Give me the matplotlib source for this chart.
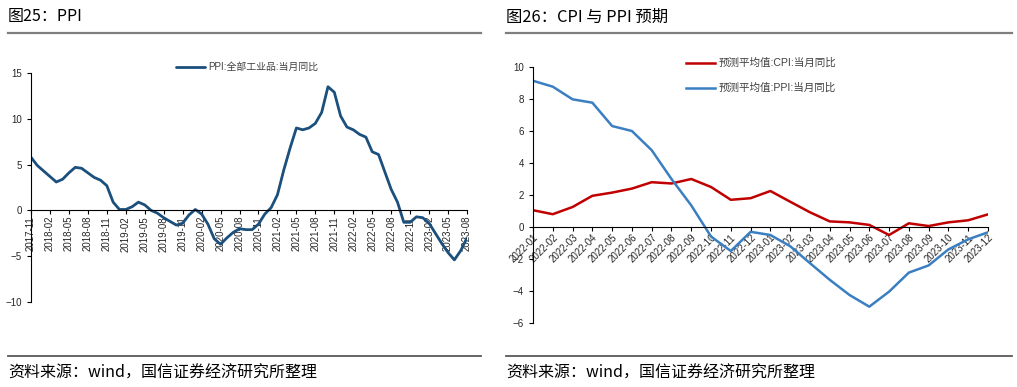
import matplotlib
matplotlib.use("Agg")
import matplotlib.pyplot as plt
from matplotlib.lines import Line2D

plt.rcParams['font.family'] = ['Liberation Sans', 'Noto Sans CJK SC', 'DejaVu Sans']

# ---------------- data ----------------
ppi_months = ["2017-11", "2017-12", "2018-01", "2018-02", "2018-03", "2018-04", "2018-05", "2018-06",
              "2018-07", "2018-08", "2018-09", "2018-10", "2018-11", "2018-12", "2019-01", "2019-02",
              "2019-03", "2019-04", "2019-05", "2019-06", "2019-07", "2019-08", "2019-09", "2019-10",
              "2019-11", "2019-12", "2020-01", "2020-02", "2020-03", "2020-04", "2020-05", "2020-06",
              "2020-07", "2020-08", "2020-09", "2020-10", "2020-11", "2020-12", "2021-01", "2021-02",
              "2021-03", "2021-04", "2021-05", "2021-06", "2021-07", "2021-08", "2021-09", "2021-10",
              "2021-11", "2021-12", "2022-01", "2022-02", "2022-03", "2022-04", "2022-05", "2022-06",
              "2022-07", "2022-08", "2022-09", "2022-10", "2022-11", "2022-12", "2023-01", "2023-02",
              "2023-03", "2023-04", "2023-05", "2023-06", "2023-07", "2023-08"]
ppi_values = [5.8, 4.9, 4.3, 3.7, 3.1, 3.4, 4.1, 4.7, 4.6, 4.1, 3.6, 3.3, 2.7, 0.9, 0.1, 0.1,
              0.4, 0.9, 0.6, 0.0, -0.3, -0.8, -1.2, -1.6, -1.4, -0.5, 0.1, -0.4, -1.5, -3.1,
              -3.7, -3.0, -2.4, -2.0, -2.1, -2.1, -1.5, -0.4, 0.3, 1.7, 4.4, 6.8, 9.0, 8.8,
              9.0, 9.5, 10.7, 13.5, 12.9, 10.3, 9.1, 8.8, 8.3, 8.0, 6.4, 6.1, 4.2, 2.3, 0.9,
              -1.3, -1.3, -0.7, -0.8, -1.4, -2.5, -3.6, -4.6, -5.4, -4.4, -3.0]
ppi_label = "PPI:全部工业品:当月同比"

fc_months = ["2022-01", "2022-02", "2022-03", "2022-04", "2022-05", "2022-06", "2022-07", "2022-08",
             "2022-09", "2022-10", "2022-11", "2022-12", "2023-01", "2023-02", "2023-03", "2023-04",
             "2023-05", "2023-06", "2023-07", "2023-08", "2023-09", "2023-10", "2023-11", "2023-12"]
cpi_forecast = [1.05, 0.8, 1.25, 1.95, 2.15, 2.4, 2.8, 2.72, 3.0, 2.5, 1.7, 1.8,
                2.25, 1.58, 0.92, 0.35, 0.29, 0.13, -0.5, 0.23, 0.06, 0.29, 0.42, 0.79]
ppi_forecast = [9.14, 8.77, 7.98, 7.77, 6.31, 6.0, 4.8, 3.0, 1.35, -0.6, -1.5, -0.3,
                -0.5, -1.2, -2.26, -3.3, -4.25, -4.98, -4.04, -2.85, -2.4, -1.4, -0.77, -0.33]
cpi_label = "预测平均值:CPI:当月同比"
ppi_f_label = "预测平均值:PPI:当月同比"

title_left = "图25：PPI"
title_right = "图26：CPI 与 PPI 预期"
source_text = "资料来源：wind，国信证券经济研究所整理"

# ---------------- figure ----------------
W, H = 1017, 387
fig = plt.figure(figsize=(W / 100, H / 100), dpi=100)
fig.patch.set_facecolor("white")

def fx(px):
    return px / W

def fy(py):
    return 1 - py / H

cjk = ['Noto Sans CJK SC', 'DejaVu Sans']
tick_color = "#262626"
legend_color = "#404040"

# titles, rules, footers
fig.text(fx(8), fy(17), title_left, fontsize=11.5, family=cjk, va='center', ha='left', color='black')
fig.text(fx(506), fy(17), title_right, fontsize=11.8, family=cjk, va='center', ha='left', color='black')
for x0, x1 in [(8, 481), (506, 1012)]:
    fig.add_artist(Line2D([fx(x0), fx(x1)], [fy(33.3), fy(33.3)], color='#7f7f7f', lw=1.6))
    fig.add_artist(Line2D([fx(x0), fx(x1)], [fy(355.7), fy(355.7)], color='#595959', lw=1.3))
fig.text(fx(8), fy(373.5), source_text, fontsize=11.5, family=cjk, va='center', ha='left', color='black')
fig.text(fx(506), fy(373.5), source_text, fontsize=11.5, family=cjk, va='center', ha='left', color='black')


def style_axes(ax):
    for s in ['top', 'right']:
        ax.spines[s].set_visible(False)
    ax.spines['left'].set_color('black')
    ax.spines['left'].set_linewidth(0.8)
    ax.spines['bottom'].set_color('black')
    ax.spines['bottom'].set_linewidth(0.8)
    ax.spines['bottom'].set_position(('data', 0))
    ax.tick_params(axis='both', direction='out', length=3, width=0.8, colors='black',
                   labelcolor=tick_color, labelsize=7)
    ax.tick_params(axis='x', pad=1)
    ax.set_facecolor('white')

# ---------------- left chart ----------------
axL = fig.add_axes([fx(31), fy(302), fx(467) - fx(31), fy(73) - fy(302)])
xL = list(range(len(ppi_months)))
axL.plot(xL, ppi_values, color='#1b4f7c', lw=2.0, solid_joinstyle='round', solid_capstyle='round',
         label=ppi_label)
axL.set_xlim(0, len(ppi_months) - 1)
axL.set_ylim(-10, 15)
axL.set_yticks([-10, -5, 0, 5, 10, 15])
style_axes(axL)
tick_idx = list(range(0, len(ppi_months), 3))
axL.set_xticks(tick_idx)
axL.set_xticklabels([ppi_months[i] for i in tick_idx], rotation=90, ha='center', va='top')
fig.legend(handles=axL.get_lines(), labels=[ppi_label], loc='upper left',
           bbox_to_anchor=(fx(176), fy(62)), frameon=False,
           handlelength=2.9, handletextpad=0.35, borderpad=0, borderaxespad=0,
           labelcolor=legend_color, prop={'family': ['Liberation Sans', 'Noto Sans CJK SC'], 'size': 7.1})

# ---------------- right chart ----------------
axR = fig.add_axes([fx(533), fy(323), fx(988) - fx(533), fy(67) - fy(323)])
xR = list(range(len(fc_months)))
l1, = axR.plot(xR, cpi_forecast, color='#c00000', lw=1.8, solid_joinstyle='round', label=cpi_label)
l2, = axR.plot(xR, ppi_forecast, color='#3a7fc1', lw=1.8, solid_joinstyle='round', label=ppi_f_label)
axR.set_xlim(0, len(fc_months) - 1)
axR.set_ylim(-6, 10)
axR.set_yticks([-6, -4, -2, 0, 2, 4, 6, 8, 10])
style_axes(axR)
axR.set_xticks(xR)
axR.set_xticklabels(fc_months, rotation=45, ha='right', va='top', rotation_mode='anchor')
fig.legend(handles=[l1, l2], labels=[cpi_label, ppi_f_label], loc='upper left',
           bbox_to_anchor=(fx(686), fy(58)), frameon=False,
           handlelength=2.7, handletextpad=0.35, borderpad=0, borderaxespad=0, labelspacing=1.4,
           labelcolor=legend_color, prop={'family': ['Liberation Sans', 'Noto Sans CJK SC'], 'size': 7.6})

fig.savefig("out.png", dpi=100, facecolor='white')
